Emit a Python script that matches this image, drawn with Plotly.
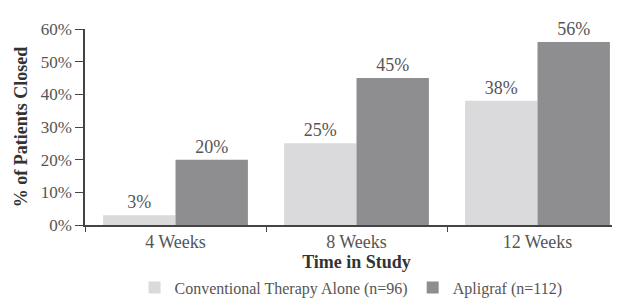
import plotly.graph_objects as go

categories = ["4 Weeks", "8 Weeks", "12 Weeks"]
conventional = [3, 25, 38]
apligraf = [20, 45, 56]
series_names = ["Conventional Therapy Alone (n=96)", "Apligraf (n=112)"]
y_ticks = [0, 10, 20, 30, 40, 50, 60]
y_tick_labels = [f"{v}%" for v in y_ticks]

FONT = "Liberation Serif"
TXT = "#555555"
DARK = "#333333"

fig = go.Figure()
fig.add_trace(go.Bar(
    x=categories, y=conventional, name=series_names[0],
    marker=dict(color="#dadadc", line=dict(width=0)),
    text=[f"{v}%" for v in conventional], textposition="outside",
    textfont=dict(family=FONT, size=18, color=TXT), cliponaxis=False,
))
fig.add_trace(go.Bar(
    x=categories, y=apligraf, name=series_names[1],
    marker=dict(color="#8e8e90", line=dict(width=0)),
    text=[f"{v}%" for v in apligraf], textposition="outside",
    textfont=dict(family=FONT, size=18, color=TXT), cliponaxis=False,
))

fig.update_layout(
    width=620, height=300,
    margin=dict(l=77, r=0, t=21, b=83, autoexpand=False),
    paper_bgcolor="white", plot_bgcolor="white",
    barmode="group", bargap=0.2, bargroupgap=0,
    font=dict(family=FONT, size=18, color=TXT),
    showlegend=True,
    legend=dict(
        orientation="h", x=0.49, xanchor="center", y=-0.32, yanchor="middle",
        font=dict(family=FONT, size=16, color=TXT),
        itemwidth=30, tracegroupgap=0,
    ),
    xaxis=dict(
        showline=True, linecolor="#444", linewidth=1.5,
        ticks="outside", tickson="boundaries", ticklen=5, tickcolor="#444",
        tickfont=dict(family=FONT, size=18, color=TXT),
        title=dict(text="<b>Time in Study</b>", font=dict(family=FONT, size=18, color=DARK), standoff=2),
        range=[-0.5, 2.5],
    ),
    yaxis=dict(
        range=[0, 60], tickvals=y_ticks, ticktext=y_tick_labels,
        showline=True, linecolor="#444", linewidth=1.5,
        ticks="outside", ticklen=8, tickcolor="#444",
        showgrid=False, zeroline=False,
        tickfont=dict(family=FONT, size=17, color=TXT),
        title=dict(text="<b>% of Patients Closed</b>", font=dict(family=FONT, size=18, color=DARK), standoff=8),
    ),
)

fig.write_html("out.html")
